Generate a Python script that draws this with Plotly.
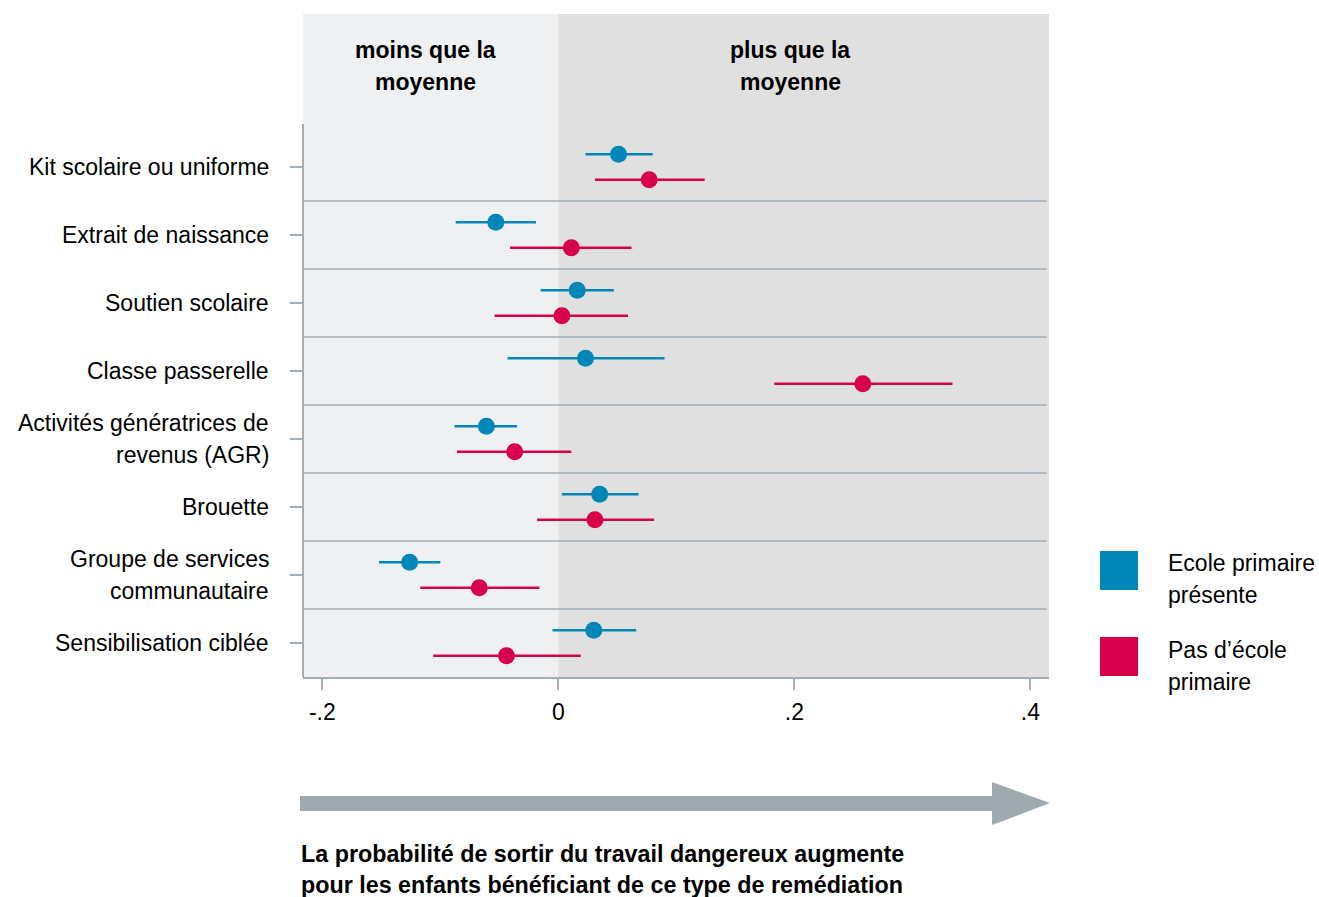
import plotly.graph_objects as go

W, H = 1319, 897

categories = [
    "Kit scolaire ou uniforme",
    "Extrait de naissance",
    "Soutien scolaire",
    "Classe passerelle",
    "Activités génératrices de<br>revenus (AGR)",
    "Brouette",
    "Groupe de services<br>communautaire",
    "Sensibilisation ciblée",
]

# Ecole primaire présente
blue_est = [0.051, -0.053, 0.016, 0.023, -0.061, 0.035, -0.126, 0.030]
blue_lo = [0.023, -0.087, -0.015, -0.043, -0.088, 0.003, -0.152, -0.005]
blue_hi = [0.080, -0.019, 0.047, 0.090, -0.035, 0.068, -0.100, 0.066]

# Pas d'école primaire
red_est = [0.077, 0.011, 0.003, 0.258, -0.037, 0.031, -0.067, -0.044]
red_lo = [0.031, -0.041, -0.054, 0.183, -0.086, -0.018, -0.117, -0.106]
red_hi = [0.124, 0.062, 0.059, 0.334, 0.011, 0.081, -0.016, 0.019]

x_ticks = [-0.2, 0, 0.2, 0.4]
x_ticktext = ["-.2", "0", ".2", ".4"]

series_names = ["Ecole primaire<br>présente", "Pas d’école<br>primaire"]
header_left = ["moins que la", "moyenne"]
header_right = ["plus que la", "moyenne"]
footer = ["La probabilité de sortir du travail dangereux augmente",
          "pour les enfants bénéficiant de ce type de remédiation"]

BLUE = "#0087b7"
RED = "#d6004b"
BG_LEFT = "#eff0f2"
BG_RIGHT = "#e0e0e0"
GRID = "#a3aeb4"
ARROW = "#9ea9b0"
FONT = "Liberation Sans, Arial, sans-serif"
FS = 23

XMIN, XMAX = -0.2164, 0.4158
YTOP, YBOT = -2.25, 7.5


def px(x):
    return x / W


def py(y):
    return 1 - y / H


n = len(categories)
rows = list(range(n))
off = 0.187

fig = go.Figure()
fig.add_trace(go.Scatter(
    x=blue_est, y=[r - off for r in rows], mode="markers",
    marker=dict(color=BLUE, size=17),
    error_x=dict(type="data", symmetric=False,
                 array=[h - e for h, e in zip(blue_hi, blue_est)],
                 arrayminus=[e - l for e, l in zip(blue_est, blue_lo)],
                 width=0, thickness=2.6, color=BLUE),
    showlegend=False, hoverinfo="skip"))
fig.add_trace(go.Scatter(
    x=red_est, y=[r + off for r in rows], mode="markers",
    marker=dict(color=RED, size=17),
    error_x=dict(type="data", symmetric=False,
                 array=[h - e for h, e in zip(red_hi, red_est)],
                 arrayminus=[e - l for e, l in zip(red_est, red_lo)],
                 width=0, thickness=2.6, color=RED),
    showlegend=False, hoverinfo="skip"))

shapes = []
# background panels
shapes.append(dict(type="rect", xref="x", yref="y", x0=XMIN, x1=0, y0=YTOP, y1=YBOT,
                   fillcolor=BG_LEFT, line=dict(width=0), layer="below"))
shapes.append(dict(type="rect", xref="x", yref="y", x0=0, x1=XMAX, y0=YTOP, y1=YBOT,
                   fillcolor=BG_RIGHT, line=dict(width=0), layer="below"))
# row separators
for i in range(n - 1):
    shapes.append(dict(type="line", xref="x", yref="y", x0=XMIN, x1=XMAX - 0.002,
                       y0=i + 0.5, y1=i + 0.5, line=dict(color=GRID, width=1.6),
                       layer="below"))
# left axis line
shapes.append(dict(type="line", xref="x domain", yref="y", x0=0, x1=0,
                   y0=-0.632, y1=YBOT, line=dict(color=GRID, width=2)))
# legend squares
shapes.append(dict(type="rect", xref="paper", yref="paper",
                   x0=px(1100), x1=px(1138), y0=py(590), y1=py(551),
                   fillcolor=BLUE, line=dict(width=0)))
shapes.append(dict(type="rect", xref="paper", yref="paper",
                   x0=px(1100), x1=px(1138), y0=py(676), y1=py(637),
                   fillcolor=RED, line=dict(width=0)))
# arrow
path = (f"M {px(300)},{py(796)} L {px(992)},{py(796)} L {px(992)},{py(782)} "
        f"L {px(1050)},{py(803)} L {px(992)},{py(825)} L {px(992)},{py(811)} "
        f"L {px(300)},{py(811)} Z")
shapes.append(dict(type="path", xref="paper", yref="paper", path=path,
                   fillcolor=ARROW, line=dict(width=0)))

annotations = []
# category labels
for i, lab in enumerate(categories):
    lines = lab.split("<br>")
    k = len(lines)
    for j, t in enumerate(lines):
        annotations.append(dict(text=t, xref="paper", yref="y", x=px(271), y=i,
                                yshift=(-(j - (k - 1) / 2)) * 32,
                                xanchor="right", yanchor="middle", showarrow=False,
                                font=dict(family=FONT, size=FS, color="#000000")))
# headers
for j, t in enumerate(header_left):
    annotations.append(dict(text=f"<b>{t}</b>", xref="paper", yref="paper",
                            x=px(426), y=py(50 + 32 * j), xanchor="center",
                            yanchor="middle", showarrow=False,
                            font=dict(family=FONT, size=FS, color="#000000")))
for j, t in enumerate(header_right):
    annotations.append(dict(text=f"<b>{t}</b>", xref="paper", yref="paper",
                            x=px(790), y=py(50 + 32 * j), xanchor="center",
                            yanchor="middle", showarrow=False,
                            font=dict(family=FONT, size=FS, color="#000000")))
# legend text
leg_y = [563, 650]
for s, name in enumerate(series_names):
    for j, t in enumerate(name.split("<br>")):
        annotations.append(dict(text=t, xref="paper", yref="paper",
                                x=px(1166), y=py(leg_y[s] + 32 * j), xanchor="left",
                                yanchor="middle", showarrow=False,
                                font=dict(family=FONT, size=FS, color="#000000")))
# footer
for j, t in enumerate(footer):
    annotations.append(dict(text=f"<b>{t}</b>", xref="paper", yref="paper",
                            x=px(299), y=py(854 + 31 * j), xanchor="left",
                            yanchor="middle", showarrow=False,
                            font=dict(family=FONT, size=23.3, color="#000000")))

fig.update_layout(
    width=W, height=H,
    margin=dict(l=0, r=0, t=0, b=0),
    paper_bgcolor="white", plot_bgcolor="white",
    shapes=shapes, annotations=annotations,
    font=dict(family=FONT, size=FS, color="#000000"),
    xaxis=dict(domain=[px(303), px(1049)], range=[XMIN, XMAX],
               showgrid=False, zeroline=False, showline=True, linecolor=GRID,
               linewidth=2, ticks="outside", ticklen=11, tickwidth=1.6,
               tickcolor=GRID, tickvals=x_ticks, ticktext=x_ticktext,
               tickfont=dict(family=FONT, size=FS, color="#000000"),
               ticklabelstandoff=2),
    yaxis=dict(domain=[py(677), py(14)], range=[YBOT, YTOP],
               showgrid=False, zeroline=False, showline=False,
               ticks="outside", ticklen=12, tickwidth=1.6, tickcolor=GRID,
               tickvals=rows, showticklabels=False),
)

fig.write_html(
    "out.html",
    config={"displayModeBar": False},
    post_script="document.body.style.margin='0';document.body.style.overflow='hidden';",
)
